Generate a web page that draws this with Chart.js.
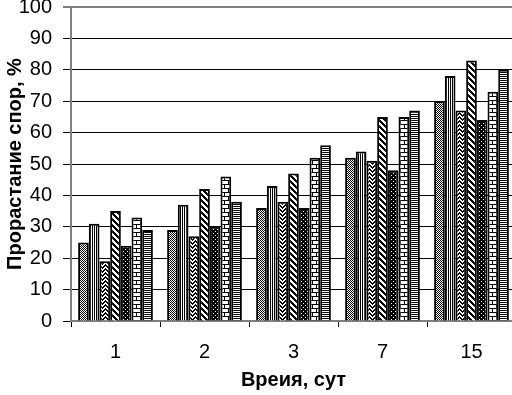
<!DOCTYPE html>
<html lang="ru">
  <head>
    <meta charset="UTF-8" />
    <title>Прорастание спор</title>
  </head>
  <style>
   html, body{
    margin: 0;
    padding: 0;
    overflow: hidden;
    background: #fff;
   }
   #myChart{
    display: block;
   }
  </style>
  <body>
    <canvas id="myChart" width="518" height="395"></canvas>
  </body>
  <script src="https://cdn.jsdelivr.net/npm/chart.js@4.4.0/dist/chart.umd.min.js"></script>
  <script>
    var days = ['1', '2', '3', '7', '15'];
    var s1 = [25, 29, 36, 52, 70];
    var s2 = [31, 37, 43, 54, 78];
    var s3 = [19, 27, 38, 51, 67];
    var s4 = [35, 42, 47, 65, 83];
    var s5 = [24, 30, 36, 48, 64];
    var s6 = [33, 46, 52, 65, 73];
    var s7 = [29, 38, 56, 67, 80];
    var yTicks = [0, 10, 20, 30, 40, 50, 60, 70, 80, 90, 100];

    var ctx = document.getElementById('myChart').getContext('2d');

    // small black & white tiles, like the old excel fills
    function makePattern(w, h, bg, fg, isOn) {
      var c = document.createElement('canvas');
      c.width = w;
      c.height = h;
      var g = c.getContext('2d');
      g.fillStyle = bg;
      g.fillRect(0, 0, w, h);
      g.fillStyle = fg;
      for (var y = 0; y < h; y++) {
        for (var x = 0; x < w; x++) {
          if (isOn(x, y)) g.fillRect(x, y, 1, 1);
        }
      }
      return ctx.createPattern(c, 'repeat');
    }

    var pCross = makePattern(2, 2, '#fff', '#000', function(x, y){ return (x + y) % 2 == 0; });
    var pVert = makePattern(2, 1, '#fff', '#000', function(x, y){ return x == 0; });
    var pZig = makePattern(6, 4, '#fff', '#000', function(x, y){ var z = Math.abs(x - 3); return y == z % 4 || (x == 0 && y == 3) || y == (z + 1) % 4; });
    var pDiag = makePattern(6, 6, '#fff', '#000', function(x, y){ return (x - y + 6) % 6 < 3; });
    var pDots = makePattern(4, 4, '#000', '#fff', function(x, y){ return (x == 1 && y == 1) || (x == 3 && y == 3); });
    var pBrick = makePattern(8, 8, '#fff', '#000', function(x, y){ return y == 0 || y == 4 || (x == 0 && y < 4) || (x == 4 && y > 4); });
    var pHoriz = makePattern(1, 2, '#fff', '#000', function(x, y){ return y == 0; });

    var series = [s1, s2, s3, s4, s5, s6, s7];
    var fills = [pCross, pVert, pZig, pDiag, pDots, pBrick, pHoriz];
    var datasets = [];
    series.forEach(function(vals, i){
      datasets.push({
        label: 'ряд ' + (i + 1),
        data: vals,
        backgroundColor: fills[i],
        borderColor: '#000',
        borderWidth: 2,
        borderSkipped: 'bottom',
        barPercentage: 1.0,
        categoryPercentage: 0.84
      });
    });

    Chart.defaults.font.family = "'Liberation Sans', Arial, sans-serif";
    Chart.defaults.color = '#000';

    var barChart = new Chart(ctx, {
      type: 'bar',
      data: { labels: days, datasets: datasets },
      options: {
        responsive: false,
        animation: false,
        devicePixelRatio: 1,
        layout: { padding: { top: 7, right: 2, left: 0, bottom: 0 } },
        plugins: {
          legend: { display: false },
          tooltip: { enabled: false }
        },
        scales: {
          x: {
            grid: {
              display: true,
              offset: true,
              drawOnChartArea: false,
              tickLength: 6,
              tickColor: '#000',
              tickWidth: 1
            },
            border: { color: '#808080', width: 2 },
            ticks: { font: { size: 20 }, padding: 13, color: '#000' },
            title: {
              display: true,
              text: 'Вреия, сут',
              font: { size: 20, weight: 'bold', lineHeight: 1.1 },
              color: '#000'
            },
            afterFit: function(scale){ scale.height = 74; scale.paddingLeft = 0; scale.paddingRight = 0; }
          },
          y: {
            min: 0,
            max: 100,
            afterBuildTicks: function(scale){
              scale.ticks = yTicks.map(function(v){ return { value: v }; });
            },
            grid: {
              color: function(c){ return (c.tick && (c.tick.value == 100 || c.tick.value == 0)) ? '#808080' : '#000'; },
              lineWidth: function(c){ return (c.tick && c.tick.value == 100) ? 2 : 1; },
              tickLength: 8,
              tickColor: '#000',
              tickWidth: 1
            },
            border: { color: '#808080', width: 2 },
            ticks: { font: { size: 20 }, padding: 11, color: '#000' },
            title: {
              display: true,
              text: 'Прорастание спор, %',
              font: { size: 20, weight: 'bold', lineHeight: 1.1 },
              color: '#000'
            },
            afterFit: function(scale){ scale.width = 71; scale.paddingTop = 0; scale.paddingBottom = 0; }
          }
        }
      }
    });
  </script>
</html>
